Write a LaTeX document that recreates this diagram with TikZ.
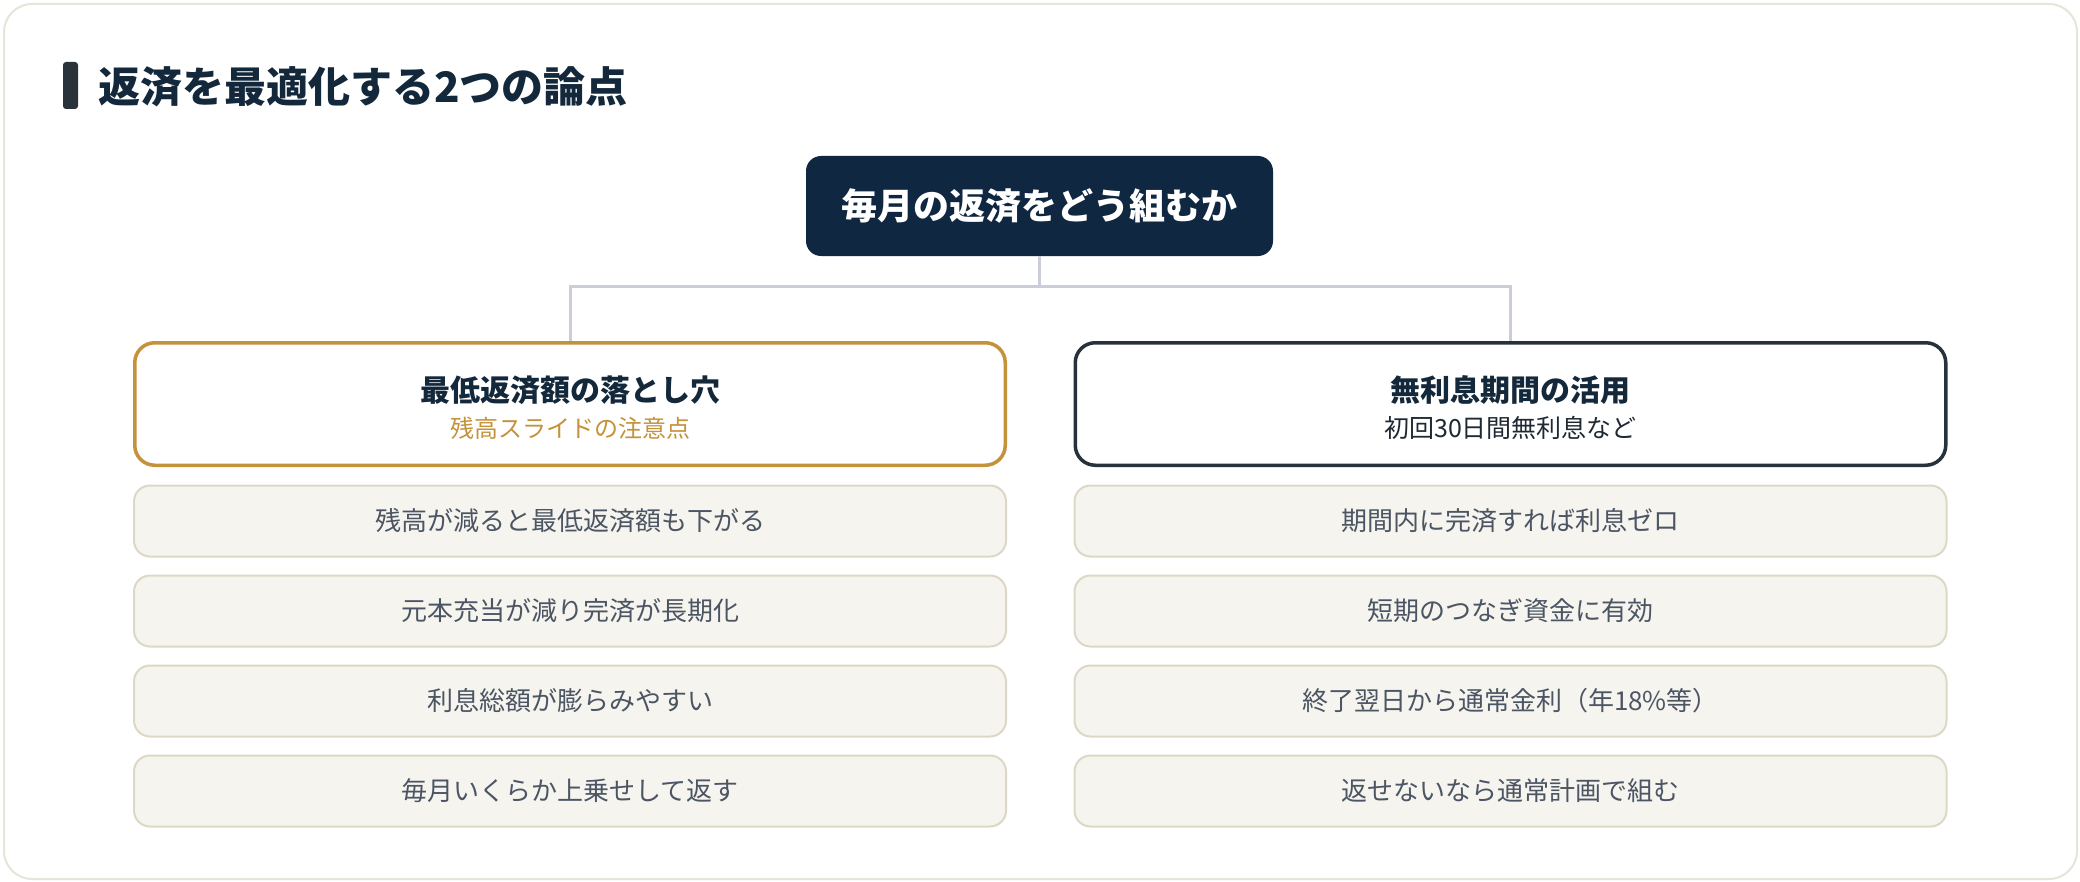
\documentclass[tikz,border=0pt]{standalone}
\usepackage{fontspec}
\setmainfont{Noto Sans CJK JP}
\usetikzlibrary{calc}
\definecolor{navy}{HTML}{0F2740}
\definecolor{titlenavy}{HTML}{14283C}
\definecolor{barcolor}{HTML}{2A323A}
\definecolor{gold}{HTML}{C4923A}
\definecolor{darkline}{HTML}{28323C}
\definecolor{subdark}{HTML}{1F2933}
\definecolor{itemtext}{HTML}{4B5563}
\definecolor{itemfill}{HTML}{F6F4EE}
\definecolor{itemline}{HTML}{DDD8C6}
\definecolor{linkgray}{HTML}{C9CED8}
\definecolor{framecolor}{HTML}{E7E4D8}

\begin{document}
\begin{tikzpicture}[x=0.5pt,y=-0.5pt,
    rootstyle/.style={rectangle,rounded corners=7.5pt,fill=navy,text=white,
        font=\fontsize{18pt}{22pt}\selectfont\bfseries,minimum width=233.5pt,
        minimum height=50pt,inner sep=0},
    headstyle/.style={rectangle,rounded corners=10pt,draw=#1,line width=1.75pt,
        fill=white,minimum width=435.25pt,minimum height=61.25pt,inner sep=0},
    itemstyle/.style={rectangle,rounded corners=8pt,draw=itemline,line width=1pt,
        fill=itemfill,text=itemtext,font=\fontsize{13pt}{16pt}\selectfont,
        minimum width=436pt,minimum height=35.5pt,inner sep=0},
    linkstyle/.style={draw=linkgray,line width=1.5pt}]
    \useasboundingbox (0,0) rectangle (2080,882);
    \fill[white] (0,0) rectangle (2080,882);
    \draw[framecolor,line width=1pt,rounded corners=14pt,fill=white] (4,4) rectangle (2077,879);
    % title
    \fill[barcolor,rounded corners=1.5pt] (63,62) rectangle (78,109);
    \node[anchor=west,inner sep=0,text=titlenavy,font=\fontsize{21pt}{26pt}\selectfont\bfseries]
        (title) at (98,87) {返済を最適化する2つの論点};
    % root and headers
    \node[rootstyle] (root) at (1039.5,206) {毎月の返済をどう組むか};
    \node[headstyle=gold] (lhead) at (570,404) {};
    \node[headstyle=darkline] (rhead) at (1510.5,404) {};
    \node[inner sep=0,text=titlenavy,font=\fontsize{15pt}{18pt}\selectfont\bfseries]
        (ltitle) at (570,390) {最低返済額の落とし穴};
    \node[inner sep=0,text=gold,font=\fontsize{12pt}{15pt}\selectfont]
        (lsub) at (570,428) {残高スライドの注意点};
    \node[inner sep=0,text=titlenavy,font=\fontsize{15pt}{18pt}\selectfont\bfseries]
        (rtitle) at (1510.5,390) {無利息期間の活用};
    \node[inner sep=0,text=subdark,font=\fontsize{12.5pt}{15pt}\selectfont]
        (rsub) at (1510.5,428) {初回30日間無利息など};
    % connectors
    \coordinate (split) at ($(root.south)+(0,30)$);
    \draw[linkstyle] (root.south) -- (split) -| (lhead.north);
    \draw[linkstyle] (split) -| (rhead.north);
    % items
    \foreach \txt [count=\i] in {残高が減ると最低返済額も下がる,元本充当が減り完済が長期化,
        利息総額が膨らみやすい,毎月いくらか上乗せして返す} {
        \node[itemstyle] (l\i) at (570,431+90*\i) {\txt};
    }
    \foreach \txt [count=\i] in {期間内に完済すれば利息ゼロ,短期のつなぎ資金に有効,
        終了翌日から通常金利（年18\%等）,返せないなら通常計画で組む} {
        \node[itemstyle] (r\i) at (1510.5,431+90*\i) {\txt};
    }
\end{tikzpicture}
\end{document}
